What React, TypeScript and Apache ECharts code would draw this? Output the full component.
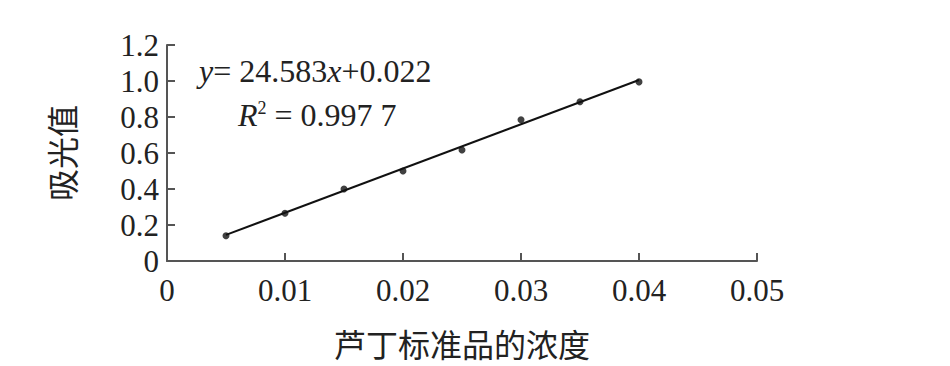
import React, { useEffect, useRef } from "react";
import * as echarts from "echarts";

const concentrations = [0.005, 0.01, 0.015, 0.02, 0.025, 0.03, 0.035, 0.04];
const absorbance = [0.14, 0.265, 0.4, 0.5, 0.617, 0.785, 0.885, 0.995];
const slope = 24.583;
const intercept = 0.022;
const fitRange = [0.005, 0.04];
const xTicks = [0, 0.01, 0.02, 0.03, 0.04, 0.05];
const yTicks = [0, 0.2, 0.4, 0.6, 0.8, 1.0, 1.2];

export default function App() {
  const ref = useRef<HTMLDivElement>(null);
  useEffect(() => {
    document.body.style.margin = "0";
    if (!ref.current) return;
    const chart = echarts.init(ref.current, undefined, { renderer: "svg" });
    const serif = "'Liberation Serif', 'Times New Roman', serif";
    const cjk = "'Noto Sans CJK SC', sans-serif";
    const axisColor = "#555";
    chart.setOption({
      animation: false,
      backgroundColor: "#fff",
      grid: { left: 167, right: 193, top: 45, bottom: 105 },
      xAxis: {
        type: "value",
        min: 0,
        max: 0.05,
        interval: 0.01,
        name: "芦丁标准品的浓度",
        nameLocation: "middle",
        nameGap: 66,
        nameTextStyle: { fontFamily: cjk, fontSize: 32, color: "#222" },
        axisLine: { show: true, lineStyle: { color: axisColor, width: 2 } },
        axisTick: { show: true, inside: true, length: 8, lineStyle: { color: axisColor, width: 2 } },
        splitLine: { show: false },
        axisLabel: {
          fontFamily: serif,
          fontSize: 31,
          color: "#222",
          margin: 14,
          formatter: (v: number) => {
            const t = xTicks.find((k) => Math.abs(k - v) < 1e-9);
            if (t === undefined) return "";
            return t === 0 ? "0" : t.toFixed(2);
          },
        },
      },
      yAxis: {
        type: "value",
        min: 0,
        max: 1.2,
        interval: 0.2,
        name: "吸光值",
        nameLocation: "middle",
        nameGap: 90,
        nameRotate: 90,
        nameTextStyle: { fontFamily: cjk, fontSize: 32, color: "#222" },
        axisLine: { show: true, lineStyle: { color: axisColor, width: 2 } },
        axisTick: { show: true, inside: true, length: 8, lineStyle: { color: axisColor, width: 2 } },
        splitLine: { show: false },
        axisLabel: {
          fontFamily: serif,
          fontSize: 31,
          color: "#222",
          margin: 8,
          formatter: (v: number) => {
            const t = yTicks.find((k) => Math.abs(k - v) < 1e-9);
            if (t === undefined) return "";
            return t === 0 ? "0" : t.toFixed(1);
          },
        },
      },
      series: [
        {
          type: "line",
          data: fitRange.map((x) => [x, slope * x + intercept]),
          symbol: "none",
          lineStyle: { color: "#111", width: 2 },
          z: 2,
        },
        {
          type: "scatter",
          data: concentrations.map((x, i) => [x, absorbance[i]]),
          symbol: "circle",
          symbolSize: 7,
          itemStyle: { color: "#111" },
          z: 3,
        },
      ],
      graphic: [
        {
          type: "text",
          left: 199,
          top: 55,
          style: {
            text: "{i|y}= 24.583{i|x}+0.022",
            rich: {
              i: { fontFamily: serif, fontStyle: "italic", fontSize: 32, fill: "#222" },
            },
            font: `32px ${serif}`,
            fill: "#222",
          },
        },
        {
          type: "text",
          left: 238,
          top: 99,
          style: {
            text: "{i|R}{s|2} = 0.997 7",
            rich: {
              i: { fontFamily: serif, fontStyle: "italic", fontSize: 32, fill: "#222" },
              s: { fontFamily: serif, fontSize: 18, fill: "#222", verticalAlign: "top", padding: [0, 0, 14, 0] },
            },
            font: `32px ${serif}`,
            fill: "#222",
          },
        },
      ],
    });
    return () => chart.dispose();
  }, []);
  return <div ref={ref} style={{ width: 950, height: 366 }} />;
}
